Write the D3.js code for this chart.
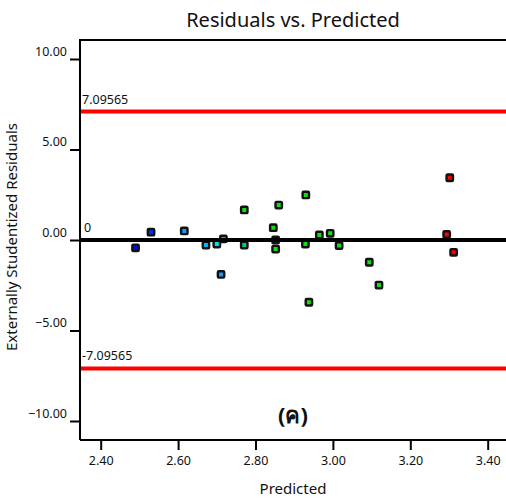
<!DOCTYPE html>
<html>
<head>
<meta charset="utf-8">
<script src="https://cdn.jsdelivr.net/npm/d3@7/dist/d3.min.js"></script>
<style>
  html, body { margin: 0; padding: 0; background: #fff; }
  svg { display: block; }
  text { font-family: "Noto Sans", "DejaVu Sans", sans-serif; fill: #111; }
</style>
</head>
<body>
<script>
// Residual diagnostics: externally studentized residuals vs. predicted response
const predicted = [2.490, 2.530, 2.616, 2.672, 2.700, 2.717, 2.711, 2.771, 2.771, 2.846, 2.852, 2.852,
                   2.860, 2.930, 2.929, 2.938, 2.965, 2.993, 3.016, 3.094, 3.119, 3.302, 3.294, 3.312];
const residuals = [-0.43, 0.43, 0.50, -0.28, -0.22, 0.06, -1.90, 1.66, -0.28, 0.68, 0.00, -0.50,
                   1.93, 2.49, -0.22, -3.44, 0.28, 0.37, -0.31, -1.23, -2.49, 3.44, 0.31, -0.68];
// response-level bin of each run (0 = lowest, 7 = highest)
const levels = [0, 1, 2, 3, 4, 5, 2, 6, 5, 6, 6, 6, 6, 6, 6, 6, 6, 6, 6, 6, 6, 7, 7, 7];
const levelColors = ["#0010e0", "#0030ff", "#1a98ff", "#00b8ff", "#00e0f0", "#00c890", "#10e010", "#ff0000"];

const xTicks = [2.40, 2.60, 2.80, 3.00, 3.20, 3.40];
const yTicks = [10, 5, 0, -5, -10];
const limit = 7.09565;
const refLines = [limit, 0, -limit];
const refLabels = ["7.09565", "0", "-7.09565"];

const W = 506, H = 500;
const frame = { left: 80, top: 40, right: 508, bottom: 440 };

const svg = d3.select("body").append("svg").attr("width", W).attr("height", H);

const x = d3.scaleLinear().domain([2.4, 3.4]).range([100.7, 487.7]);
const y = d3.scaleLinear().domain([-10, 10]).range([421, 59]);
const color = d3.scaleOrdinal().domain(d3.range(levelColors.length)).range(levelColors);

// title
svg.append("text")
  .attr("x", 293).attr("y", 27)
  .attr("text-anchor", "middle")
  .style("font-size", "20px")
  .text("Residuals vs. Predicted");

// points (drawn first so reference lines sit on top)
const pts = predicted.map((p, i) => ({ p, r: residuals[i], lv: levels[i] }));
svg.append("g").selectAll("rect").data(pts).join("rect")
  .attr("x", d => x(d.p) - 3.2)
  .attr("y", d => y(d.r) - 3.2)
  .attr("width", 6.4).attr("height", 6.4)
  .attr("rx", 1)
  .attr("fill", d => color(d.lv))
  .attr("stroke", "#111")
  .attr("stroke-width", 2.4);

// reference lines
svg.append("g").selectAll("line").data(refLines).join("line")
  .attr("x1", frame.left).attr("x2", frame.right)
  .attr("y1", d => y(d)).attr("y2", d => y(d))
  .attr("stroke", d => d === 0 ? "#000" : "#ff0000")
  .attr("stroke-width", 4);

svg.append("g").selectAll("text").data(refLines).join("text")
  .attr("x", (d, i) => i === 1 ? 84 : 82)
  .attr("y", d => y(d) - 8)
  .style("font-size", "12.5px")
  .text((d, i) => refLabels[i]);

// frame: left and top edges
svg.append("path")
  .attr("d", `M${frame.left},${frame.bottom}V${frame.top}H${frame.right}`)
  .attr("fill", "none").attr("stroke", "#000").attr("stroke-width", 2);

// x axis
const xAxis = svg.append("g")
  .attr("transform", `translate(0,${frame.bottom})`)
  .call(d3.axisBottom(x).tickValues(xTicks).tickFormat(d3.format(".2f")).tickSize(10).tickSizeOuter(0));
xAxis.select(".domain").attr("d", `M${frame.left},0H${frame.right}`).attr("stroke-width", 2);
xAxis.selectAll(".tick line").attr("stroke-width", 2);
xAxis.selectAll(".tick text").attr("y", 16).attr("dy", "0.71em")
  .style("font-size", "12.5px").style("font-family", "'Noto Sans', sans-serif").attr("fill", "#111");

// y axis
const yAxis = svg.append("g")
  .attr("transform", `translate(${frame.left},0)`)
  .call(d3.axisLeft(y).tickValues(yTicks).tickFormat(d3.format(".2f")).tickSize(10).tickSizeOuter(0));
yAxis.select(".domain").remove();
yAxis.selectAll(".tick line").attr("stroke-width", 2);
yAxis.selectAll(".tick text")
  .attr("x", -13).attr("dy", "-0.3em")
  .style("font-size", "12.5px").style("font-family", "'Noto Sans', sans-serif").attr("fill", "#111");

// axis titles
svg.append("text")
  .attr("x", 293).attr("y", 494)
  .attr("text-anchor", "middle")
  .style("font-size", "15px")
  .text("Predicted");

svg.append("text")
  .attr("transform", "translate(17,237) rotate(-90)")
  .attr("text-anchor", "middle")
  .style("font-size", "15px")
  .text("Externally Studentized Residuals");

// panel tag
svg.append("text")
  .attr("x", 293).attr("y", 423)
  .attr("text-anchor", "middle")
  .style("font-size", "22px").style("font-weight", "bold")
  .text("(ค)");
</script>
</body>
</html>
